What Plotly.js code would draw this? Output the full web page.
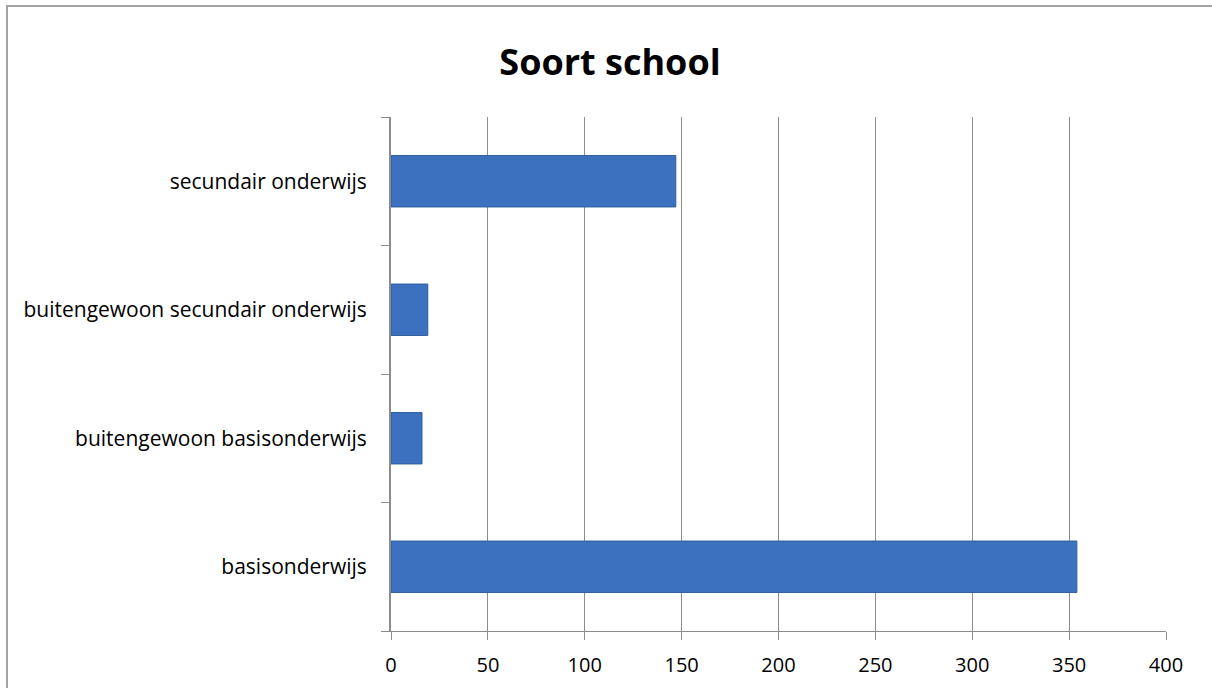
<!DOCTYPE html>
<html>
<head>
<meta charset="utf-8">
<script src="https://cdn.plot.ly/plotly-3.0.1.min.js"></script>
<style>
  html, body { margin: 0; padding: 0; overflow: hidden; background: #fff; }
  #wrap { position: relative; width: 1212px; height: 688px; }
  #chart { position: absolute; left: 0; top: 0; width: 1212px; height: 688px; }
  #frame { position: absolute; left: 6px; top: 5px; width: 1400px; height: 900px;
           border: 2px solid #a3a3a3; pointer-events: none; box-sizing: border-box; }
</style>
</head>
<body>
<div id="wrap">
  <div id="chart"></div>
  <div id="frame"></div>
</div>
<script>
const categories = ["basisonderwijs", "buitengewoon basisonderwijs", "buitengewoon secundair onderwijs", "secundair onderwijs"];
const values = [354, 16, 19, 147];
const xTicks = [0, 50, 100, 150, 200, 250, 300, 350, 400];

const trace = {
  type: "bar",
  orientation: "h",
  y: categories,
  x: values,
  marker: {
    color: "#3B71BF",
    line: { color: "#2F5C9C", width: 1 }
  },
  hoverinfo: "x+y"
};

const layout = {
  width: 1212,
  height: 688,
  margin: { l: 391, r: 46, t: 117, b: 57 },
  paper_bgcolor: "#ffffff",
  plot_bgcolor: "#ffffff",
  showlegend: false,
  bargap: 0.6,
  title: {
    text: "<b>Soort school</b>",
    font: { family: "Open Sans, sans-serif", size: 36, color: "#000000" },
    x: 610 / 1212, xanchor: "center", xref: "container",
    y: 1 - 62 / 688, yanchor: "middle", yref: "container"
  },
  xaxis: {
    range: [0, 400],
    tickvals: xTicks,
    ticktext: xTicks.map(String),
    showgrid: true,
    gridcolor: "#8c8c8c",
    gridwidth: 1,
    zeroline: false,
    showline: true,
    linecolor: "#8c8c8c",
    linewidth: 1,
    ticks: "outside",
    ticklen: 8,
    tickcolor: "#8c8c8c",
    ticklabelstandoff: 8,
    tickfont: { family: "Open Sans, sans-serif", size: 20, color: "#000000" },
    fixedrange: true
  },
  yaxis: {
    type: "category",
    categoryorder: "array",
    categoryarray: categories,
    showgrid: false,
    zeroline: false,
    showline: true,
    linecolor: "#8c8c8c",
    linewidth: 2,
    ticks: "outside",
    tickson: "boundaries",
    ticklen: 8,
    tickcolor: "#8c8c8c",
    ticklabelstandoff: 18,
    tickfont: { family: "Open Sans, sans-serif", size: 21, color: "#000000" },
    fixedrange: true
  }
};

Plotly.newPlot("chart", [trace], layout, { displayModeBar: false, staticPlot: true });
</script>
</body>
</html>
